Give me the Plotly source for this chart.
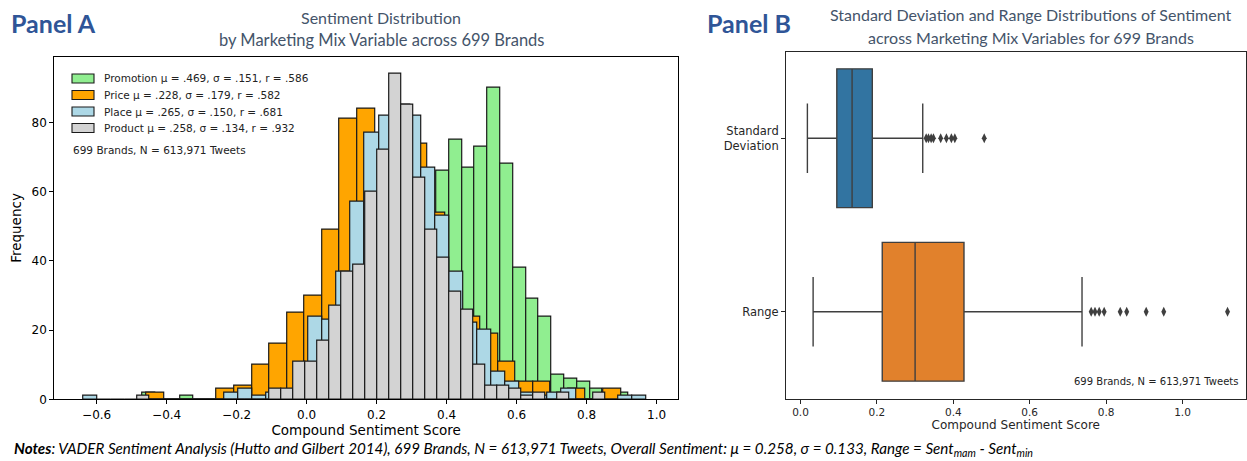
import plotly.graph_objects as go

# ---------------- DATA ----------------
# Panel A: histograms (counts per bin, bins spanning each series' min..max)
promo_min, promo_max = -0.470, 0.919
promo_counts = [2, 0, 0, 1, 0, 0, 0, 0, 1, 1, 1, 2, 2, 3, 4, 5, 7, 9, 11, 14,
                18, 23, 40, 66, 75, 67, 73, 90, 68, 38, 29, 24, 7, 6, 5, 3, 2, 2]
price_min, price_max = -0.458, 0.898
price_counts = [2, 0, 0, 0, 3, 4, 10, 16, 25, 30, 49, 81, 84, 76, 85, 74, 54,
                35, 24, 19, 11, 5, 5, 1, 3, 0, 3]
place_min, place_max = -0.638, 0.970
place_counts = [1, 0, 0, 0, 0, 0, 0, 0, 0, 0, 2, 3, 1, 2, 2, 8, 24, 23, 37, 57,
                77, 82, 76, 82, 67, 53, 37, 22, 20, 8, 5, 2, 1, 2, 3, 0, 0, 0, 1, 1]
product_min, product_max = -0.484, 0.852
product_counts = [1, 0, 0, 0, 0, 0, 0, 0, 0, 0, 0, 3, 3, 11, 11, 17, 27, 37, 39,
                  60, 72, 94, 85, 64, 49, 41, 31, 26, 10, 4, 4, 3, 1, 2, 0, 2, 0, 0, 2]
series_names = ["Promotion μ = .469, σ = .151, r = .586",
                "Price μ = .228, σ = .179, r = .582",
                "Place μ = .265, σ = .150, r = .681",
                "Product μ = .258, σ = .134, r = .932"]
xticks_a = [-0.6, -0.4, -0.2, 0.0, 0.2, 0.4, 0.6, 0.8, 1.0]
yticks_a = [0, 20, 40, 60, 80]

# Panel B: box plot statistics
box_labels = ["Standard<br>Deviation", "Range"]
box_lowerfence = [0.018, 0.033]
box_q1 = [0.095, 0.214]
box_median = [0.135, 0.300]
box_q3 = [0.188, 0.428]
box_upperfence = [0.320, 0.737]
sd_outliers = [0.329, 0.335, 0.342, 0.348, 0.367, 0.382, 0.395, 0.404, 0.481]
range_outliers = [0.761, 0.771, 0.782, 0.795, 0.837, 0.854, 0.905, 0.951, 1.118]
xticks_b = [0.0, 0.2, 0.4, 0.6, 0.8, 1.0]

# ---------------- FIGURE ----------------
W, H = 1247, 461
def px(x):
    return x / W
def py(y):
    return 1 - y / H

fig = go.Figure()

colors_a = ["#90EE90", "#FFA500", "#ADD8E6", "#D3D3D3"]
edge_col = "#1a1a1a"
hist_data = [(promo_min, promo_max, promo_counts),
             (price_min, price_max, price_counts),
             (place_min, place_max, place_counts),
             (product_min, product_max, product_counts)]
for name, col, (lo, hi, counts) in zip(series_names, colors_a, hist_data):
    w = (hi - lo) / len(counts)
    centers = [lo + w * (i + 0.5) for i in range(len(counts))]
    fig.add_trace(go.Bar(
        x=centers, y=counts, width=w, name=name,
        marker=dict(color=col, line=dict(color=edge_col, width=1.2)),
        xaxis="x", yaxis="y", showlegend=False,
    ))

box_fill = ["#3274a1", "#e1812c"]
for i, lab in enumerate(box_labels):
    fig.add_trace(go.Box(
        y=[lab], q1=[box_q1[i]], median=[box_median[i]], q3=[box_q3[i]],
        lowerfence=[box_lowerfence[i]], upperfence=[box_upperfence[i]],
        orientation="h", fillcolor=box_fill[i],
        line=dict(color="#3f3f3f", width=1.4), width=0.8, whiskerwidth=0.5,
        boxpoints=False, xaxis="x2", yaxis="y2", showlegend=False,
    ))
for lab, outs in zip(box_labels, [sd_outliers, range_outliers]):
    fig.add_trace(go.Scatter(
        x=outs, y=[lab] * len(outs), mode="markers",
        marker=dict(symbol="diamond-tall", size=7, color="#3f3f3f"),
        xaxis="x2", yaxis="y2", showlegend=False,
    ))

axfont = dict(family="DejaVu Sans", size=12, color="#000000")
axfont_b = dict(family="DejaVu Sans", size=10.5, color="#262626")

fig.update_layout(
    width=W, height=H,
    margin=dict(l=0, r=0, t=0, b=0, autoexpand=False),
    paper_bgcolor="white", plot_bgcolor="white",
    barmode="overlay", bargap=0, showlegend=False,
    font=dict(family="DejaVu Sans", color="#000000"),
    xaxis=dict(domain=[px(54.3), px(678)], range=[-0.721, 1.061], automargin=False,
               tickvals=xticks_a, ticktext=[f"{v:.1f}".replace("-", "−") for v in xticks_a],
               showline=True, mirror=True, linecolor="#000000", linewidth=1,
               ticks="outside", ticklen=4, tickcolor="#000000", showgrid=False,
               zeroline=False, tickfont=axfont,
               title=dict(text="Compound Sentiment Score", font=dict(family="DejaVu Sans", size=13.5), standoff=2),
               anchor="y"),
    yaxis=dict(domain=[py(399.3), py(56.7)], range=[0, 99], automargin=False,
               tickvals=yticks_a, showline=True, mirror=True, linecolor="#000000",
               linewidth=1, ticks="outside", ticklen=4, tickcolor="#000000",
               showgrid=False, zeroline=False, tickfont=axfont,
               title=dict(text="Frequency", font=dict(family="DejaVu Sans", size=13.5), standoff=6),
               anchor="x"),
    xaxis2=dict(domain=[px(786), px(1245.5)], range=[-0.038, 1.165], automargin=False,
                tickvals=xticks_b, ticktext=[f"{v:.1f}" for v in xticks_b],
                showline=True, mirror=True, linecolor="#262626", linewidth=1,
                ticks="outside", ticklen=4, tickcolor="#262626", showgrid=False,
                zeroline=False, tickfont=axfont_b,
                title=dict(text="Compound Sentiment Score", font=dict(family="DejaVu Sans", size=12, color="#262626"), standoff=2),
                anchor="y2"),
    yaxis2=dict(domain=[py(398.5), py(51.5)], type="category", automargin=False,
                categoryorder="array", categoryarray=box_labels,
                range=[1.5, -0.5],
                showline=True, mirror=True, linecolor="#262626", linewidth=1,
                ticks="outside", ticklen=4, tickcolor="#262626", showgrid=False,
                zeroline=False, tickfont=dict(family="DejaVu Sans", size=11.5, color="#262626"),
                anchor="x2"),
)

# custom legend (patches + labels) for Panel A
legend_rows_y = [78.5, 95, 111.5, 128]
shapes = []
annots = []
for name, col, ly in zip(series_names, colors_a, legend_rows_y):
    shapes.append(dict(type="rect", xref="paper", yref="paper",
                       x0=px(72), x1=px(94), y0=py(ly + 4.5), y1=py(ly - 4.5),
                       fillcolor=col, line=dict(color=edge_col, width=1.1)))
    annots.append(dict(x=px(102), y=py(ly), text=name, xanchor="left", yanchor="middle",
                       font=dict(family="DejaVu Sans", size=10.5, color="#222222")))

title_color = "#44546a"
annots += [
    dict(x=px(9), y=py(23), text="<b>Panel A</b>", xanchor="left", yanchor="middle",
         font=dict(family="Lato", size=25, color="#2f5597")),
    dict(x=px(381), y=py(17), text="Sentiment Distribution",
         xanchor="center", yanchor="middle",
         font=dict(family="Lato", size=16, color=title_color)),
    dict(x=px(381), y=py(40), text="by Marketing Mix Variable across 699 Brands",
         xanchor="center", yanchor="middle",
         font=dict(family="Lato", size=16.5, color=title_color)),
    dict(x=px(705), y=py(23), text="<b>Panel B</b>", xanchor="left", yanchor="middle",
         font=dict(family="Lato", size=25, color="#2f5597")),
    dict(x=px(1031), y=py(15), text="Standard Deviation and Range Distributions of Sentiment",
         xanchor="center", yanchor="middle",
         font=dict(family="Lato", size=16, color=title_color)),
    dict(x=px(1031), y=py(38), text="across Marketing Mix Variables for 699 Brands",
         xanchor="center", yanchor="middle",
         font=dict(family="Lato", size=16, color=title_color)),
    dict(x=px(71), y=py(150), text="699 Brands, N = 613,971 Tweets", xanchor="left", yanchor="middle",
         font=dict(family="DejaVu Sans", size=10.5, color="#222222")),
    dict(x=px(1240), y=py(381), text="699 Brands, N = 613,971 Tweets", xanchor="right", yanchor="middle",
         font=dict(family="DejaVu Sans", size=10, color="#222222")),
    dict(x=px(12), y=py(449),
         text="<b><i>Notes</i></b><i>: VADER Sentiment Analysis (Hutto and Gilbert 2014), 699 Brands, N = 613,971 Tweets, Overall Sentiment: μ = 0.258, σ = 0.133, Range = Sent<sub>mam</sub> - Sent<sub>min</sub></i>",
         xanchor="left", yanchor="middle",
         font=dict(family="Lato", size=15.2, color="#000000")),
]
for a in annots:
    a.update(xref="paper", yref="paper", showarrow=False)
fig.update_layout(annotations=annots, shapes=shapes)

fig.write_html("out.html",
               config={"displayModeBar": False},
               post_script="document.body.style.margin='0';document.body.style.overflow='hidden';")
